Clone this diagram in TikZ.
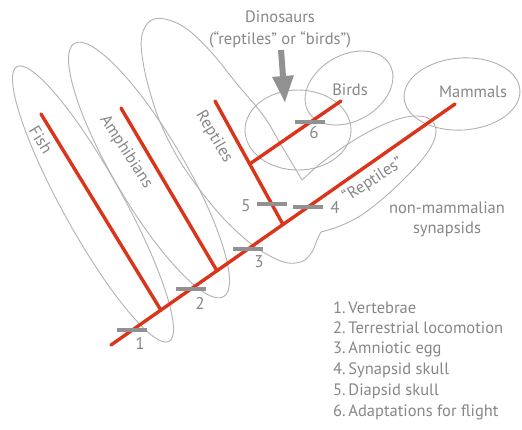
\documentclass[tikz,border=0pt]{standalone}
\usepackage{fontspec}
\setmainfont{PT Sans}
\usetikzlibrary{arrows.meta,calc}
\definecolor{redline}{RGB}{218,52,26}
\definecolor{markgray}{RGB}{145,145,145}
\definecolor{outline}{RGB}{178,178,178}
\definecolor{txtgray}{RGB}{135,135,135}
\begin{document}
\begin{tikzpicture}[x=1pt,y=-1pt,
  group/.style={draw=outline, line width=0.9pt},
  branch/.style={draw=redline, line width=3.4pt, line cap=round},
  markbar/.style={fill=markgray, draw=none, minimum width=30pt, minimum height=4pt, inner sep=0pt},
  lbl/.style={text=txtgray, font=\fontsize{16.5}{19}\selectfont, inner sep=0pt},
  num/.style={lbl, font=\fontsize{17}{20}\selectfont},
  bigarrow/.style={draw=markgray, line width=6pt, -{Triangle[width=20pt,length=27pt]}}
]
\useasboundingbox[fill=white] (0,0) rectangle (522,429);

% group outlines
\draw[group, rotate around={-61:(93,204)}] (93,204) ellipse [x radius=157, y radius=30];
\draw[group, rotate around={-59.5:(149,170)}] (149,170) ellipse [x radius=147, y radius=35];
\draw[group] (302,180) -- plot[smooth, tension=0.6] coordinates {(302,180) (280,143) (263,115) (237,84) (212,53) (187,29) (165,19) (150,21) (142,35) (142,55) (148,85) (160,122) (178,158) (200,190) (225,220) (250,243) (270,256) (288,263) (303,261) (312,252) (317,240) (321,232)}
  -- plot[smooth, tension=0.6] coordinates {(321,232) (340,226) (360,216) (380,201) (400,183) (420,162) (432,145) (436,130) (430,119) (415,116) (395,120) (370,131) (345,146) (320,164) (302,180)} -- cycle;
\draw[group] (298,130) ellipse [x radius=53, y radius=40];
\draw[group, rotate around={30:(349,88)}] (349,88) ellipse [x radius=47, y radius=33];
\draw[group, rotate around={4:(462,94)}] (462,94) ellipse [x radius=58, y radius=36];

% tree
\coordinate (t0) at (111,345);
\coordinate (t1) at (455,104);
\coordinate (jF) at ($(t0)!0.145!(t1)$);
\coordinate (jA) at ($(t0)!0.308!(t1)$);
\coordinate (jR) at ($(t0)!0.5!(t1)$);
\coordinate (fishTop) at (41,114);
\coordinate (amphTop) at (121,108);
\coordinate (reptTop) at (215,101);
\coordinate (jB) at ($(reptTop)!0.51!(jR)$);
\coordinate (birdTop) at (341,101);
\draw[branch] (t0) -- (t1);
\draw[branch] (fishTop) -- (jF);
\draw[branch] (amphTop) -- (jA);
\draw[branch] (reptTop) -- (jR);
\draw[branch] (jB) -- (birdTop);

% markers
\node[markbar] (bar1) at ($(t0)!0.061!(t1)$) {};
\node[markbar] (bar2) at ($(t0)!0.2326!(t1)$) {};
\node[markbar] (bar3) at ($(t0)!0.398!(t1)$) {};
\node[markbar] (bar4) at ($(t0)!0.573!(t1)$) {};
\node[markbar] (bar5) at ($(reptTop)!0.834!(jR)$) {};
\node[markbar] (bar6) at ($(jB)!0.66!(birdTop)$) {};
\node[num] (n1) at (140,343) {1};
\node[num] (n2) at (200,303) {2};
\node[num] (n3) at (259,262) {3};
\node[num] (n4) at (335,207) {4};
\node[num] (n5) at (246,206) {5};
\node[num] (n6) at (314,133) {6};

% labels
\node[lbl, rotate=-58] (fish) at (41,140) {Fish};
\node[lbl, rotate=-57] (amph) at (126,152) {Amphibians};
\node[lbl, rotate=-59] (rept) at (214,137) {Reptiles};
\node[lbl, rotate=33] (qrept) at (373,180) {“Reptiles”};
\node[lbl] (birds) at (350,90) {Birds};
\node[lbl] (mamm) at (473,92) {Mammals};
\node[lbl, anchor=base] (nonm) at (447,213) {non-mammalian};
\node[lbl, anchor=base] (syn) at (447,233) {synapsids};
\node[lbl] (dino) at (280,17) {Dinosaurs};
\node[lbl] (dinoq) at (280,40) {(“reptiles” or “birds”)};
\coordinate (arrS) at (281,50);
\coordinate (arrE) at (285,103);
\draw[bigarrow] (arrS) -- (arrE);

% legend
\node[lbl, anchor=base west] (leg1) at (333,313.5) {1.\,Vertebrae};
\node[lbl, anchor=base west] (leg2) at (333,333.5) {2.\,Terrestrial locomotion};
\node[lbl, anchor=base west] (leg3) at (333,353.5) {3.\,Amniotic egg};
\node[lbl, anchor=base west] (leg4) at (333,374.5) {4.\,Synapsid skull};
\node[lbl, anchor=base west] (leg5) at (333,395.5) {5.\,Diapsid skull};
\node[lbl, anchor=base west] (leg6) at (333,416.5) {6.\,Adaptations for flight};
\end{tikzpicture}
\end{document}
